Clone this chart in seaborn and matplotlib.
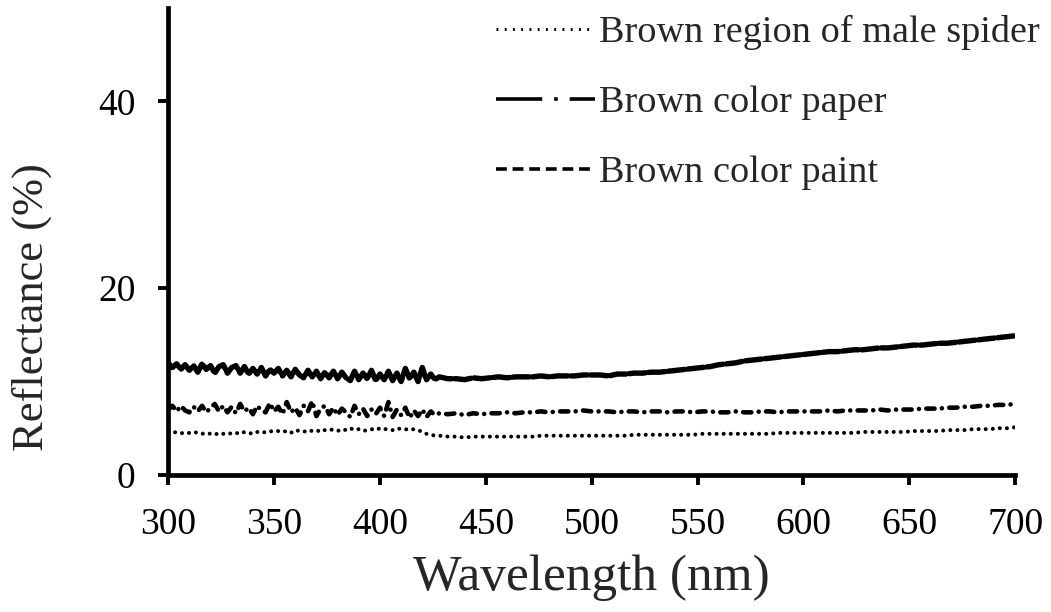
import numpy as np
import pandas as pd
import seaborn as sns
import matplotlib.pyplot as plt
from matplotlib.lines import Line2D

sns.set_style('ticks')
plt.rcParams['font.family'] = ['Liberation Serif', 'DejaVu Serif']

# wavelength (nm): 2 nm steps in the noisy UV part, 4 nm after
wavelength = np.concatenate([np.arange(300, 429, 2), np.arange(432, 701, 4)])

# reflectance (%)
paint = [12.0, 11.5, 11.9, 11.3, 11.8, 11.2, 11.7, 11.0, 11.9, 11.3, 11.7, 10.9, 11.6,
         11.8, 10.9, 11.5, 11.7, 10.9, 11.6, 10.8, 11.4, 10.8, 11.5, 10.6, 11.3, 10.9,
         11.4, 10.6, 11.2, 10.5, 11.3, 10.7, 10.4, 11.2, 10.5, 11.1, 10.3, 11.0, 10.4,
         11.1, 10.3, 11.0, 10.4, 10.1, 11.1, 10.2, 10.9, 10.3, 11.2, 10.1, 10.8, 10.2,
         11.1, 10.1, 10.9, 10.0, 11.4, 10.3, 11.0, 10.0, 11.5, 10.2, 10.8, 10.2, 10.5,
         10.3, 10.3, 10.2, 10.4, 10.3,
         10.4, 10.5, 10.4, 10.5, 10.5, 10.5, 10.6, 10.5, 10.6, 10.6, 10.6, 10.7, 10.7,
         10.7, 10.6, 10.8, 10.8, 10.9, 10.9, 11.0, 11.0, 11.1, 11.2, 11.3, 11.4, 11.5,
         11.6, 11.8, 11.9, 12.0, 12.2, 12.3, 12.4, 12.5, 12.6, 12.7, 12.8, 12.9,
         13.0, 13.1, 13.2, 13.2, 13.3, 13.4, 13.4, 13.5, 13.6, 13.6, 13.7, 13.8, 13.9,
         13.9, 14.0, 14.1, 14.1, 14.2, 14.3, 14.4, 14.5, 14.6, 14.7, 14.8, 14.9]

paper = [7.0, 7.4, 6.8, 7.4, 6.9, 6.7, 7.3, 6.8, 7.4, 6.7, 7.2, 7.6, 6.8,
         7.4, 6.7, 7.3, 6.6, 7.6, 6.8, 7.2, 6.5, 7.4, 6.9, 6.7, 7.7, 6.8,
         7.3, 6.5, 7.8, 6.7, 7.2, 6.4, 7.4, 6.8, 7.9, 6.3, 7.1, 7.4, 6.5,
         7.2, 6.4, 7.1, 6.7, 6.2, 7.4, 6.5, 7.1, 6.3, 7.0, 6.5, 7.2, 6.3,
         7.8, 6.2, 7.0, 6.4, 7.2, 6.1, 6.9, 6.3, 7.0, 6.2, 6.8, 6.4, 6.6,
         6.5, 6.6, 6.4, 6.6, 6.5,
         6.6, 6.6, 6.7, 6.6, 6.7, 6.7, 6.8, 6.7, 6.8, 6.8, 6.8, 6.9, 6.8,
         6.8, 6.8, 6.7, 6.8, 6.8, 6.7, 6.8, 6.8, 6.7, 6.8, 6.8, 6.7, 6.8,
         6.8, 6.7, 6.7, 6.8, 6.7, 6.7, 6.8, 6.8, 6.7, 6.8, 6.8, 6.8,
         6.8, 6.8, 6.9, 6.8, 6.9, 6.9, 6.9, 6.9, 7.0, 6.9, 7.0, 7.0, 7.0,
         7.1, 7.1, 7.1, 7.2, 7.2, 7.3, 7.3, 7.4, 7.4, 7.5, 7.5, 7.6]

spider = [4.6, 4.5, 4.6, 4.5, 4.4, 4.5, 4.6, 4.5, 4.4, 4.5, 4.4, 4.3, 4.5,
          4.4, 4.5, 4.4, 4.5, 4.4, 4.6, 4.5, 4.4, 4.6, 4.5, 4.6, 4.7, 4.6,
          4.7, 4.6, 4.7, 4.5, 4.8, 4.7, 4.6, 4.8, 4.7, 4.8, 4.6, 4.8, 4.9,
          4.8, 4.7, 4.9, 4.8, 5.0, 4.8, 4.9, 4.7, 4.8, 4.9, 4.8, 5.0, 4.9,
          4.9, 4.8, 5.0, 4.9, 4.9, 4.8, 4.9, 4.8, 4.6, 4.4, 4.3, 4.2, 4.2,
          4.1, 4.1, 4.0, 4.1, 4.1,
          4.1, 4.1, 4.1, 4.1, 4.1, 4.1, 4.2, 4.2, 4.2, 4.2, 4.2, 4.2, 4.2,
          4.2, 4.2, 4.2, 4.2, 4.3, 4.3, 4.3, 4.3, 4.3, 4.3, 4.3, 4.3, 4.4,
          4.4, 4.4, 4.4, 4.4, 4.4, 4.4, 4.4, 4.4, 4.5, 4.5, 4.5, 4.5,
          4.5, 4.5, 4.5, 4.5, 4.5, 4.5, 4.6, 4.6, 4.6, 4.6, 4.6, 4.6, 4.7,
          4.7, 4.7, 4.7, 4.8, 4.8, 4.8, 4.9, 4.9, 4.9, 5.0, 5.0, 5.1]

labels = ['Brown region of male spider', 'Brown color paper', 'Brown color paint']
x_ticks = [300, 350, 400, 450, 500, 550, 600, 650, 700]
y_ticks = [0, 20, 40]

fig = plt.figure(figsize=(10.51, 6.12), dpi=100)
ax = fig.add_axes([0.16, 0.224, 0.806, 0.763])

# line styles of the curves (dash lengths in linewidth units)
curve_styles = [
    dict(lw=2.9, ls=(0, (0.01, 1.75))),
    dict(lw=3.3, ls=(0, (1.8, 1.6, 0.01, 1.6))),
    dict(lw=3.9, ls=(0, (3.0, 0.6))),
]
for vals, st in zip([spider, paper, paint], curve_styles):
    sns.lineplot(x=wavelength, y=vals, ax=ax, color='black',
                 estimator=None, errorbar=None, linewidth=st['lw'],
                 linestyle=st['ls'], dash_capstyle='round', solid_capstyle='round')

ax.set_xlim(300, 700)
ax.set_ylim(0, 50)
ax.set_xticks(x_ticks)
ax.set_yticks(y_ticks)
ax.tick_params(axis='both', labelsize=27, width=2.8, length=7.5, direction='out',
               pad=16, color='black', labelcolor='black')
for side in ['left', 'bottom']:
    ax.spines[side].set_linewidth(3.4)
    ax.spines[side].set_color('black')
sns.despine(ax=ax)

ax.set_xlabel('Wavelength (nm)', fontsize=37)
ax.xaxis.set_label_coords(0.5, -0.171)
ax.set_ylabel('Reflectance (%)', fontsize=32)
ax.yaxis.set_label_coords(-0.137, 0.36)

# legend keys drawn as in the original (different dash lengths from the curves)
handles = [
    Line2D([], [], color='black', lw=2.2, ls=(0, (0.6, 2.1)), dash_capstyle='butt'),
    Line2D([], [], color='black', lw=2.6, ls=(0, (12.8, 3.3, 1.0, 3.3, 10.0, 3.3)),
           dash_capstyle='butt'),
    Line2D([], [], color='black', lw=2.6, ls=(0, (3.0, 1.6)), dash_capstyle='butt'),
]
ax.legend(handles, labels, loc='upper right', bbox_to_anchor=(1.0, 0.994),
          bbox_transform=fig.transFigure, frameon=False, fontsize=27.5,
          handlelength=2.6, handletextpad=0.1, labelspacing=0.92,
          borderaxespad=0.2, borderpad=0.1)

fig.savefig('out.png', dpi=100)
